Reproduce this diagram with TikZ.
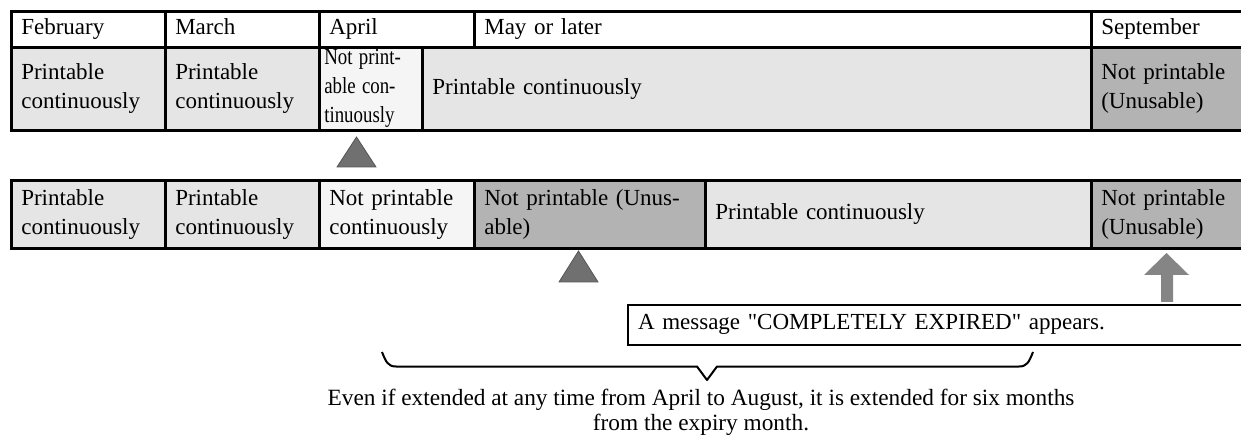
\documentclass[tikz,border=0pt]{standalone}
\usepackage{fontspec}
\setmainfont{Liberation Serif}[Ligatures=TeXOff]
\usepackage{graphicx}
\definecolor{pc}{HTML}{E5E5E5}
\definecolor{npc}{HTML}{F5F5F5}
\definecolor{unus}{HTML}{B3B3B3}
\definecolor{tri}{HTML}{707070}
\definecolor{trib}{HTML}{555555}
\definecolor{arr}{HTML}{858585}
\newcommand{\nar}[1]{\scalebox{0.82}[1]{#1}}
\begin{document}
\begin{tikzpicture}[x=1pt,y=-1pt,
  cell/.style={draw=black, line width=2.6pt, anchor=north west, align=left,
    inner xsep=10pt, inner ysep=0pt,
    font=\fontsize{23}{29}\selectfont},
  hdr/.style={cell, fill=white, minimum height=36pt, text height=16pt, text depth=6pt},
  row/.style={cell, minimum height=83pt},
  rowb/.style={cell, minimum height=68pt},
  msg/.style={draw=black, line width=2pt, anchor=north west, align=left,
    inner xsep=10pt, inner ysep=0pt, minimum height=40pt, text height=16pt, text depth=6pt,
    font=\fontsize{23}{29}\selectfont},
  tri/.style={fill=tri, draw=trib, line width=0.8pt},
  brace/.style={draw=black, line width=2pt, line join=round},
  note/.style={align=center, font=\fontsize{23.3}{25}\selectfont}
]
\useasboundingbox (0,0) rectangle (1241,435);
% header row
\node[hdr, minimum width=154pt, text width=134pt] (hfeb) at (10,10) {February};
\node[hdr, minimum width=154pt, text width=134pt] (hmar) at (164,10) {March};
\node[hdr, minimum width=155pt, text width=135pt] (hapr) at (318,10) {April};
\node[hdr, minimum width=617pt, text width=597pt] (hmay) at (473,10) {May or later};
\node[hdr, minimum width=155pt, text width=135pt] (hsep) at (1090,10) {September};
% first status row
\node[row, fill=pc, minimum width=154pt, text width=134pt] (a1) at (10,46) {Printable\\continuously};
\node[row, fill=pc, minimum width=154pt, text width=134pt] (a2) at (164,46) {Printable\\continuously};
\node[row, fill=npc, minimum width=103pt, text width=93pt, inner xsep=5pt] (a3) at (318,46) {\nar{Not print-}\\\nar{able con-}\\\nar{tinuously}};
\node[row, fill=pc, minimum width=669pt, text width=649pt] (a4) at (421,46) {Printable continuously};
\node[row, fill=unus, minimum width=155pt, text width=135pt] (a5) at (1090,46) {Not printable\\(Unusable)};
% second status row
\node[rowb, fill=pc, minimum width=154pt, text width=134pt] (b1) at (10,179) {Printable\\continuously};
\node[rowb, fill=pc, minimum width=154pt, text width=134pt] (b2) at (164,179) {Printable\\continuously};
\node[rowb, fill=npc, minimum width=155pt, text width=135pt] (b3) at (318,179) {Not printable\\continuously};
\node[rowb, fill=unus, minimum width=231pt, text width=211pt] (b4) at (473,179) {Not printable (Unus-\\able)};
\node[rowb, fill=pc, minimum width=386pt, text width=366pt] (b5) at (704,179) {Printable continuously};
\node[rowb, fill=unus, minimum width=155pt, text width=135pt] (b6) at (1090,179) {Not printable\\(Unusable)};
% triangles
\path[tri] (337,167) -- (356.5,137) -- (376,167) -- cycle;
\path[tri] (559,282) -- (578.5,251) -- (598,282) -- cycle;
% up arrow
\path[fill=arr] (1161,302) -- (1161,275) -- (1144,275) -- (1166.5,253) -- (1189,275) -- (1173,275) -- (1173,302) -- cycle;
% message box
\node[msg, minimum width=620pt, text width=600pt] (msgbox) at (627,304) {A message "COMPLETELY EXPIRED" appears.};
% brace
\draw[brace] (382,352) .. controls (386,362) and (388,366.5) .. (396,366.5) -- (697,366.5) -- (707,380) -- (717,366.5) -- (1019,366.5) .. controls (1027,366.5) and (1029,362) .. (1033,352);
\coordinate (tip) at (707,380);
% note
\node[note, anchor=north] (notetext) at (701,386) {Even if extended at any time from April to August, it is extended for six months\\from the expiry month.};
\end{tikzpicture}
\end{document}
